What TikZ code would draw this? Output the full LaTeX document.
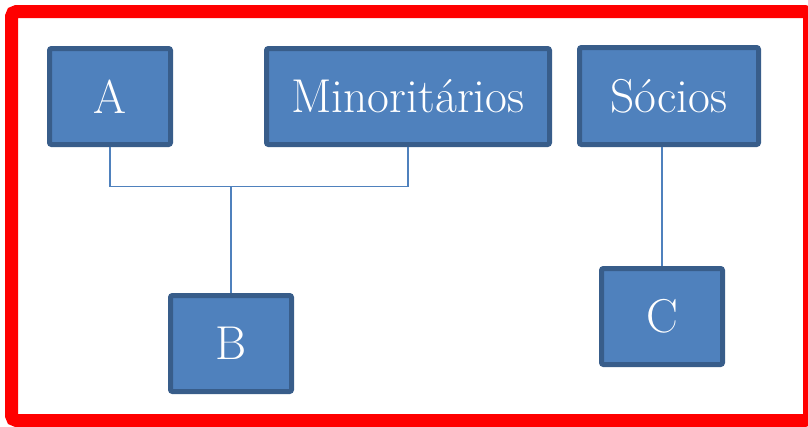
\documentclass[tikz,border=0pt]{standalone}
\usepackage{fontspec}
\begin{document}
\begin{tikzpicture}[x=1pt,y=-1pt,
  orgbox/.style={draw=boxedge, fill=boxfill, line width=5pt, rounded corners=2pt,
    text=white, font=\fontsize{47.5}{52}\selectfont, inner sep=0pt,
    minimum height=96pt},
  conn/.style={draw=boxfill, line width=1.6pt}]
  \definecolor{boxfill}{HTML}{4F81BD}
  \definecolor{boxedge}{HTML}{385D8A}
  \definecolor{framered}{HTML}{FF0000}
  \useasboundingbox (0,0) rectangle (808,426);
  \clip (0,0) rectangle (808,426);
  % outer frame
  \draw[framered, line width=13pt, rounded corners=5pt] (11.5,11.5) rectangle (809.5,420.5);
  % boxes
  \node[orgbox, minimum width=121pt] (A) at (110,96.5) {A};
  \node[orgbox, minimum width=283pt] (M) at (408,96.5) {Minoritários};
  \node[orgbox, minimum width=179pt, minimum height=97pt] (S) at (669,96) {Sócios};
  \node[orgbox, minimum width=121pt] (B) at (231,343.5) {B};
  \node[orgbox, minimum width=121pt] (C) at (662,316.5) {C};
  % connectors
  \coordinate (j) at (231,186.5);
  \draw[conn] (A.south) |- (j) -| (M.south);
  \draw[conn] (j) -- (B.north);
  \draw[conn] (S.south -| C.north) -- (C.north);
\end{tikzpicture}
\end{document}
